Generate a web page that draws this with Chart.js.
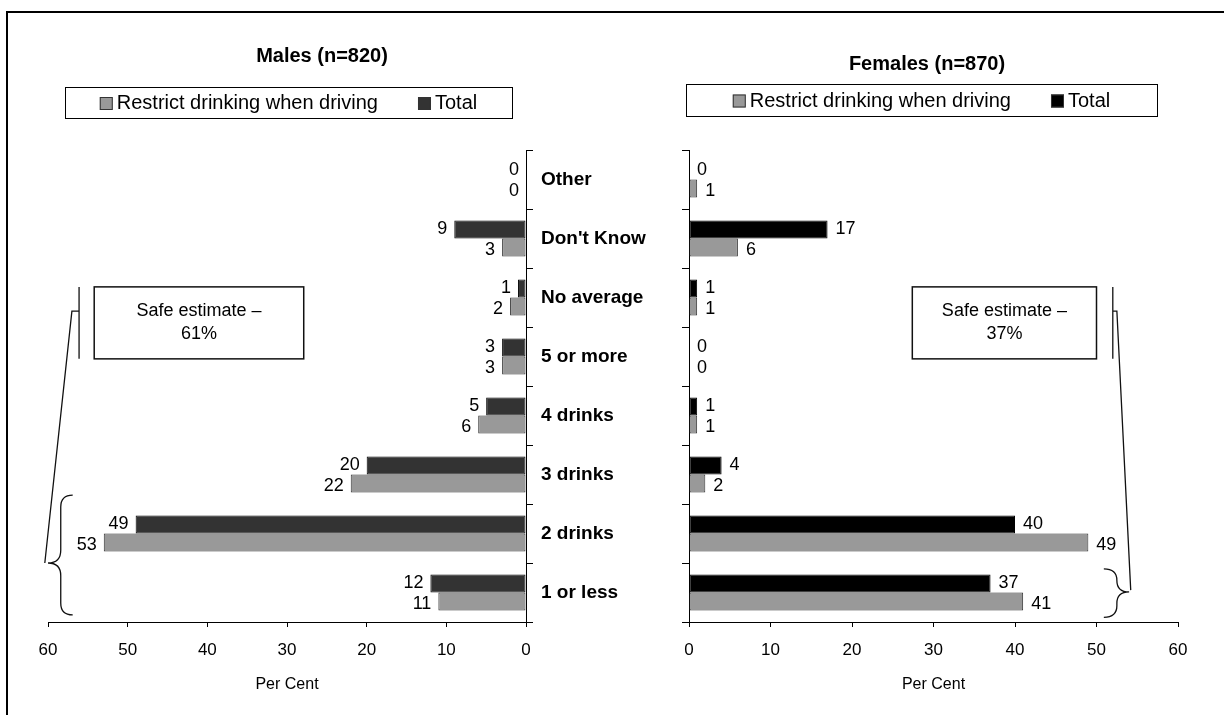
<!DOCTYPE html>
<html>
<head>
<meta charset="utf-8">
<script src="https://cdn.jsdelivr.net/npm/chart.js@4.4.1/dist/chart.umd.min.js"></script>
<style>
  html, body { margin: 0; padding: 0; background: #fff; overflow: hidden; }
  #page { position: relative; width: 1224px; height: 715px; overflow: hidden; }
  #frame { position: absolute; left: 6px; top: 11px; width: 1300px; height: 800px; border: 2px solid #000; }
  canvas { position: absolute; top: 0; }
  #males { left: 0; }
  #females { left: 612px; }
</style>
</head>
<body>
<div id="page">
  <div id="frame"></div>
  <canvas id="males" width="680" height="715"></canvas>
  <canvas id="females" width="612" height="715"></canvas>
</div>
<script>
// ---- data ----
const categories = ["Other", "Don't Know", "No average", "5 or more", "4 drinks", "3 drinks", "2 drinks", "1 or less"];
const maleTotal = [0, 9, 1, 3, 5, 20, 49, 12];
const maleRestrict = [0, 3, 2, 3, 6, 22, 53, 11];
const femaleTotal = [0, 17, 1, 0, 1, 4, 40, 37];
const femaleRestrict = [1, 6, 1, 0, 1, 2, 49, 41];
const axisMax = 60;
const axisStep = 10;

const FONT = '"Liberation Sans", Arial, sans-serif';
Chart.defaults.font.family = FONT;
Chart.defaults.color = "#000";

// value labels at the end of each bar
const valueLabels = {
    id: "valueLabels",
    afterLayout(chart) {
        // let the category names run past the narrow axis box without clipping
        const y = chart.scales.y;
        if (y.position === "right") y.right = chart.width;
    },
    afterDatasetsDraw(chart, args, opts) {
        const ctx = chart.ctx;
        ctx.save();
        ctx.font = "18px " + FONT;
        ctx.fillStyle = "#000";
        ctx.textBaseline = "middle";
        ctx.textAlign = opts.side === "left" ? "right" : "left";
        chart.data.datasets.forEach((ds, i) => {
            chart.getDatasetMeta(i).data.forEach((bar, j) => {
                const x = opts.side === "left" ? bar.x - 7 : bar.x + 8;
                ctx.fillText(String(ds.data[j]), x, bar.y + (opts.shift[i] || 0));
            });
        });
        ctx.restore();
    }
};

// boxed legend
const boxLegend = {
    id: "boxLegend",
    afterDraw(chart, args, o) {
        const ctx = chart.ctx;
        ctx.save();
        ctx.lineWidth = 1;
        ctx.strokeStyle = "#000";
        ctx.strokeRect(o.left + 0.5, o.top + 0.5, o.right - o.left, o.bottom - o.top);
        ctx.font = "20px " + FONT;
        ctx.textBaseline = "middle";
        ctx.textAlign = "left";
        const items = chart.data.datasets.slice().reverse();
        const sq = 13, gapIn = 4;
        const widths = items.map(d => ctx.measureText(d.label).width);
        let total = o.gap * (items.length - 1);
        widths.forEach(w => total += sq + gapIn + w);
        let x = (o.left + o.right) / 2 - total / 2;
        const cy = (o.top + o.bottom) / 2 + 1;
        items.forEach((d, i) => {
            ctx.fillStyle = d.backgroundColor;
            ctx.fillRect(x, cy - sq / 2, sq, sq);
            ctx.strokeStyle = "#333";
            ctx.strokeRect(x + 0.5, cy - sq / 2 + 0.5, sq - 1, sq - 1);
            ctx.fillStyle = "#000";
            ctx.fillText(d.label, x + sq + gapIn, cy);
            x += sq + gapIn + widths[i] + o.gap;
        });
        ctx.restore();
    }
};

// "Safe estimate" box with stem, link line and brace
function drawBrace(ctx, xb, xf, xt, y0, y1, ym) {
    const r1 = Math.min(Math.abs(xf - xb), (ym - y0) / 2, (y1 - ym) / 2);
    const r2 = Math.min(Math.abs(xt - xf), (ym - y0) / 2, (y1 - ym) / 2);
    ctx.beginPath();
    ctx.moveTo(xb, y0);
    ctx.quadraticCurveTo(xf, y0, xf, y0 + r1);
    ctx.lineTo(xf, ym - r2);
    ctx.quadraticCurveTo(xf, ym, xt, ym);
    ctx.quadraticCurveTo(xf, ym, xf, ym + r2);
    ctx.lineTo(xf, y1 - r1);
    ctx.quadraticCurveTo(xf, y1, xb, y1);
    ctx.stroke();
}

const safeNote = {
    id: "safeNote",
    afterDraw(chart, args, n) {
        const ctx = chart.ctx;
        const px = v => chart.scales.x.getPixelForValue(v);
        const py = v => chart.scales.y.getPixelForValue(v);
        ctx.save();
        ctx.strokeStyle = "#111";
        ctx.lineWidth = 1.5;

        // text box
        const bx0 = Math.min(px(n.box[0]), px(n.box[1]));
        const bx1 = Math.max(px(n.box[0]), px(n.box[1]));
        const by0 = py(n.box[2]), by1 = py(n.box[3]);
        ctx.fillStyle = "#fff";
        ctx.fillRect(bx0, by0, bx1 - bx0, by1 - by0);
        ctx.strokeRect(bx0, by0, bx1 - bx0, by1 - by0);
        ctx.fillStyle = "#000";
        ctx.font = "18px " + FONT;
        ctx.textAlign = "center";
        ctx.textBaseline = "middle";
        const cx = (bx0 + bx1) / 2, cy = (by0 + by1) / 2;
        ctx.fillText(n.text[0], cx, cy - 11.5);
        ctx.fillText(n.text[1], cx, cy + 11.5);

        // stem, link and brace
        ctx.lineWidth = 1.3;
        ctx.beginPath();
        ctx.moveTo(px(n.stem[0]), py(n.stem[1]));
        ctx.lineTo(px(n.stem[0]), py(n.stem[2]));
        ctx.moveTo(px(n.link[0]), py(n.link[2]));
        ctx.lineTo(px(n.link[1]), py(n.link[2]));
        ctx.lineTo(px(n.link[3]), py(n.link[4]));
        ctx.stroke();
        drawBrace(ctx, px(n.brace[0]), px(n.brace[1]), px(n.brace[2]),
            py(n.brace[3]), py(n.brace[4]), py(n.brace[5]));
        ctx.restore();
    }
};

function makeChart(id, cfg) {
    const left = cfg.side === "left";
    return new Chart(document.getElementById(id), {
        type: "bar",
        data: {
            labels: categories,
            datasets: [{
                label: "Total",
                data: cfg.total,
                backgroundColor: cfg.totalColor,
                borderColor: "#000",
                borderWidth: 1,
                borderSkipped: false
            }, {
                label: "Restrict drinking when driving",
                data: cfg.restrict,
                backgroundColor: "#999999",
                borderColor: "#333",
                borderWidth: 1,
                borderSkipped: false
            }]
        },
        options: {
            indexAxis: "y",
            responsive: false,
            animation: false,
            categoryPercentage: 0.61,
            barPercentage: 1,
            layout: { padding: cfg.padding },
            plugins: {
                legend: { display: false },
                tooltip: { enabled: false },
                title: {
                    display: true,
                    text: cfg.title,
                    color: "#000",
                    font: { size: 20, weight: "bold" },
                    padding: cfg.titlePadding
                },
                valueLabels: { side: cfg.side, shift: [0, 3] },
                boxLegend: cfg.legend,
                safeNote: cfg.note
            },
            scales: {
                x: {
                    min: 0,
                    max: axisMax,
                    reverse: left,
                    grid: { drawOnChartArea: false, tickLength: 5, color: "#000" },
                    border: { color: "#000", width: 1 },
                    ticks: { stepSize: axisStep, padding: 13, color: "#000", font: { size: 17 } },
                    title: {
                        display: true,
                        text: "Per Cent",
                        color: "#000",
                        font: { size: 16 },
                        padding: { top: 2, bottom: 0 }
                    }
                },
                y: {
                    position: left ? "right" : "left",
                    grid: { drawOnChartArea: false, tickLength: 7, color: "#000", offset: true },
                    border: { color: "#000", width: 1 },
                    ticks: {
                        display: left,
                        padding: 8,
                        color: "#000",
                        font: { size: 19, weight: "bold" }
                    },
                    afterFit: s => { s.width = cfg.yWidth; }
                }
            }
        },
        plugins: [valueLabels, boxLegend, safeNote]
    });
}

makeChart("males", {
    side: "left",
    title: "Males (n=820)",
    total: maleTotal,
    restrict: maleRestrict,
    totalColor: "#333333",
    padding: { left: 48, right: 84, top: 0, bottom: 20.4 },
    titlePadding: { top: 44, bottom: 82 },
    yWidth: 70,
    legend: { left: 65, right: 512, top: 87, bottom: 118, gap: 40 },
    note: {
        box: [54.2, 27.9, 1.82, 3.04],
        text: ["Safe estimate \u2013", "61%"],
        stem: [56.1, 1.82, 3.04],
        link: [56.1, 57.0, 2.23, 60.4, 6.5],
        brace: [56.9, 58.4, 60.0, 5.35, 7.38, 6.5]
    }
});

makeChart("females", {
    side: "right",
    title: "Females (n=870)",
    total: femaleTotal,
    restrict: femaleRestrict,
    totalColor: "#000000",
    padding: { left: 64, right: 46, top: 0, bottom: 20.4 },
    titlePadding: { top: 52, bottom: 74 },
    yWidth: 13,
    legend: { left: 74, right: 545, top: 84, bottom: 116, gap: 40 },
    note: {
        box: [27.4, 50.0, 1.82, 3.04],
        text: ["Safe estimate \u2013", "37%"],
        stem: [52.0, 1.82, 3.04],
        link: [52.0, 52.5, 2.23, 54.2, 6.96],
        brace: [50.9, 52.5, 54.0, 6.6, 7.42, 6.99]
    }
});
</script>
</body>
</html>
